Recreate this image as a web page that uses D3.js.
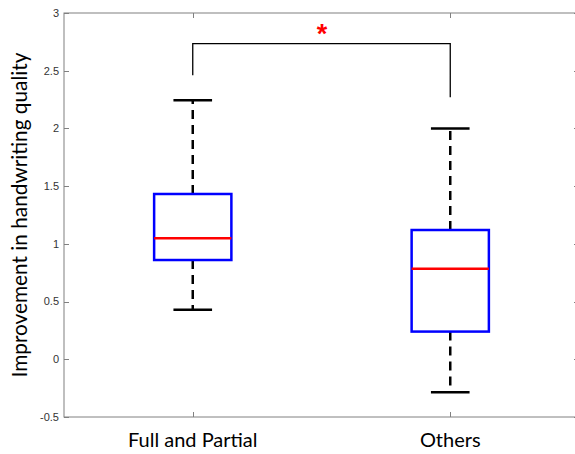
<!DOCTYPE html>
<html><head><meta charset="utf-8">
<script src="https://cdn.jsdelivr.net/npm/d3@7"></script>
<style>body{margin:0;background:#fff}</style>
</head><body>
<svg id="chart" width="575" height="454"></svg>
<script>
const categories = ["Full and Partial", "Others"];
const whiskerLow  = [0.43, -0.285];
const q1          = [0.86, 0.24];
const medians     = [1.048, 0.785];
const q3          = [1.432, 1.12];
const whiskerHigh = [2.245, 2.0];
const yTicks = [-0.5, 0, 0.5, 1, 1.5, 2, 2.5, 3];
const yTickLabels = ["-0.5", "0", "0.5", "1", "1.5", "2", "2.5", "3"];
const bracket = {top: 2.735, leftEnd: 2.46, rightEnd: 2.27, label: "*"};
const yLabel = "Improvement in handwriting quality";

const svg = d3.select("#chart");
const L = 64, R = 579, T = 13, B = 417;
const x = d3.scaleLinear().domain([0.5, 2.5]).range([L, R]);
const y = d3.scaleLinear().domain([-0.5, 3]).range([B, T]);
const axisCol = "#808080";
const boxHalf = 0.15, capHalf = 0.075;

// frame
svg.append("rect").attr("x", L).attr("y", T).attr("width", R - L).attr("height", B - T)
  .attr("fill", "none").attr("stroke", axisCol).attr("stroke-width", 1);

// y ticks
yTicks.forEach((t, i) => {
  const yy = Math.round(y(t)) + 0.5;
  svg.append("line").attr("x1", L).attr("x2", L + 5).attr("y1", yy).attr("y2", yy).attr("stroke", axisCol);
  svg.append("line").attr("x1", R).attr("x2", R - 5).attr("y1", yy).attr("y2", yy).attr("stroke", axisCol);
  svg.append("text").attr("x", L - 5).attr("y", y(t)).attr("dy", "0.35em")
    .attr("text-anchor", "end").attr("font-family", "Liberation Sans, Arial, sans-serif")
    .attr("font-size", 11).attr("fill", "#333").text(yTickLabels[i]);
});
// x ticks
categories.forEach((c, i) => {
  const xx = Math.round(x(i + 1)) + 0.5;
  svg.append("line").attr("x1", xx).attr("x2", xx).attr("y1", B).attr("y2", B - 5).attr("stroke", axisCol);
  svg.append("line").attr("x1", xx).attr("x2", xx).attr("y1", T).attr("y2", T + 5).attr("stroke", axisCol);
  svg.append("text").attr("x", x(i + 1)).attr("y", 447).attr("text-anchor", "middle")
    .attr("font-family", "Lato, sans-serif").attr("font-size", 20).attr("fill", "#000").text(c);
});

// y label
svg.append("text").attr("transform", `translate(27,${(T + B) / 2}) rotate(-90)`)
  .attr("text-anchor", "middle").attr("font-family", "Lato, sans-serif")
  .attr("font-size", 20.8).attr("fill", "#000").text(yLabel);

// boxes
categories.forEach((c, i) => {
  const cx = x(i + 1);
  const g = svg.append("g");
  g.append("line").attr("x1", cx).attr("x2", cx).attr("y1", y(q3[i])).attr("y2", y(whiskerHigh[i]))
    .attr("stroke", "#000").attr("stroke-width", 2.5).attr("stroke-dasharray", "9,6");
  g.append("line").attr("x1", cx).attr("x2", cx).attr("y1", y(q1[i])).attr("y2", y(whiskerLow[i]))
    .attr("stroke", "#000").attr("stroke-width", 2.5).attr("stroke-dasharray", "9,6");
  [whiskerHigh[i], whiskerLow[i]].forEach(v => {
    g.append("line").attr("x1", x(i + 1 - capHalf)).attr("x2", x(i + 1 + capHalf))
      .attr("y1", y(v)).attr("y2", y(v)).attr("stroke", "#000").attr("stroke-width", 2.5);
  });
  g.append("rect").attr("x", x(i + 1 - boxHalf)).attr("y", y(q3[i]))
    .attr("width", x(i + 1 + boxHalf) - x(i + 1 - boxHalf)).attr("height", y(q1[i]) - y(q3[i]))
    .attr("fill", "none").attr("stroke", "#0000ff").attr("stroke-width", 2.5);
  g.append("line").attr("x1", x(i + 1 - boxHalf)).attr("x2", x(i + 1 + boxHalf))
    .attr("y1", y(medians[i])).attr("y2", y(medians[i])).attr("stroke", "#ff0000").attr("stroke-width", 2.5);
});

// significance bracket
svg.append("path")
  .attr("d", d3.line()([[x(1), y(bracket.leftEnd)], [x(1), y(bracket.top)], [x(2), y(bracket.top)], [x(2), y(bracket.rightEnd)]]))
  .attr("fill", "none").attr("stroke", "#000").attr("stroke-width", 1.3);
svg.append("text").attr("x", 322).attr("y", 43).attr("text-anchor", "middle")
  .attr("font-family", "Liberation Sans, Arial, sans-serif").attr("font-weight", "bold")
  .attr("font-size", 27).attr("fill", "#ff0000").text(bracket.label);
</script>
</body></html>
